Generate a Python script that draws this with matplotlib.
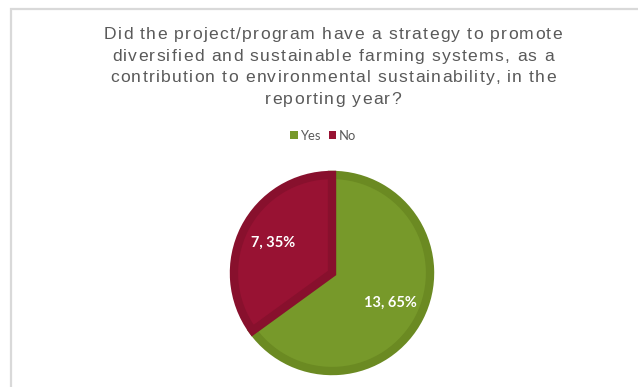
import matplotlib.pyplot as plt
from matplotlib.patches import Patch, Rectangle
from matplotlib.font_manager import FontProperties

# survey answers
categories = ["Yes", "No"]
counts = [13, 7]
fill_colours = ["#77992A", "#981233"]
edge_colours = ["#6B8A22", "#88102D"]

title_lines = ["Did the project/program have a strategy to promote",
               "diversified and sustainable farming systems, as a",
               "contribution to environmental sustainability, in the",
               "reporting year?"]

W, H = 638, 387
fig = plt.figure(figsize=(W / 100, H / 100), dpi=100)
fig.patch.set_facecolor("white")

# light chart-area frame (top and left edges visible, runs off right/bottom)
fig.patches.append(Rectangle((11 / W, -0.05), 1.1, (H - 9) / H + 0.05,
                             transform=fig.transFigure, fill=False,
                             edgecolor="#D9D9D9", linewidth=1.6))

# title with a bit of letter spacing, drawn one character at a time
renderer = fig.canvas.get_renderer()
tprop = FontProperties(family="Liberation Sans", size=12.6)


def text_w(s):
    if not s:
        return 0.0
    return renderer.get_text_width_height_descent(s, tprop, ismath=False)[0]


# spread the first line over ~458 px
track = (458 - text_w(title_lines[0])) / (len(title_lines[0]) - 1)

y0, dy = 39, 21.7
for k, line in enumerate(title_lines):
    total_w = text_w(line) + track * (len(line) - 1)
    x_start = 333 - total_w / 2
    yb = y0 + k * dy
    for i, ch in enumerate(line):
        if ch == " ":
            continue
        x = x_start + text_w(line[:i]) + track * i
        fig.text(x / W, 1 - yb / H, ch, ha="left", va="baseline",
                 fontproperties=tprop, color="#595959")

# legend
handles = [Patch(facecolor=c, edgecolor="none") for c in fill_colours]
fig.legend(handles, categories, loc="center", bbox_to_anchor=(323 / W, 1 - 136 / H),
           ncol=2, frameon=False, handlelength=0.55, handleheight=0.55,
           handletextpad=0.2, columnspacing=0.6,
           prop={"family": "Lato", "size": 9.4}, labelcolor="#595959")

# pie
R = 100
ax = fig.add_axes([(332 - R) / W, (H - 373) / H, 2 * R / W, 2 * R / H])
total = sum(counts)


def fmt(pct):
    n = int(round(pct * total / 100.0))
    return "{}, {:.0f}%".format(n, pct)


wedges, texts, autotexts = ax.pie(counts, colors=fill_colours, startangle=90,
                                  counterclock=False, autopct=fmt,
                                  pctdistance=0.67, radius=1.0,
                                  textprops={"color": "white", "family": "Lato",
                                             "weight": "bold", "size": 10.5})
for w, ec in zip(wedges, edge_colours):
    # border drawn inside each slice only
    w.set_edgecolor(ec)
    w.set_linewidth(6)
    w.set_clip_path(w)

ax.set_xlim(-1.02, 1.02)
ax.set_ylim(-1.02, 1.02)
ax.set_aspect("equal")
ax.axis("off")

fig.savefig("out.png", dpi=100)
